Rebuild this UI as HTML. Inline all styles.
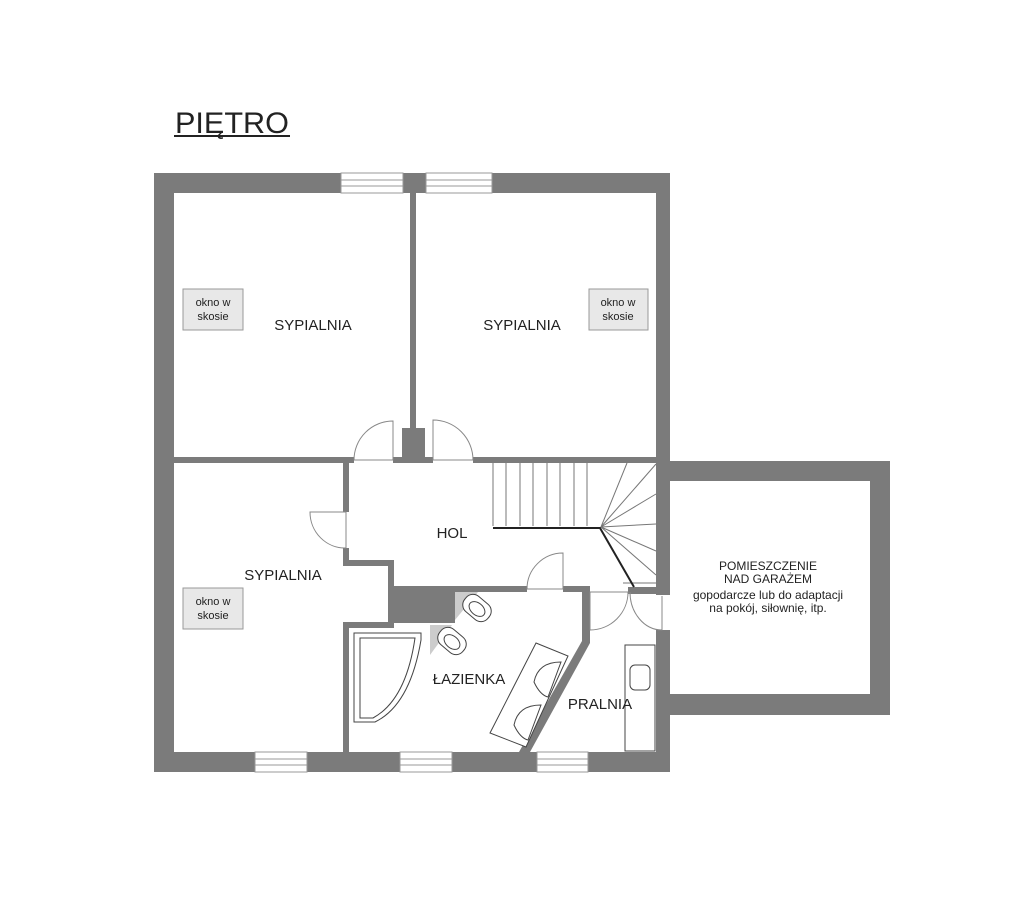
<!DOCTYPE html>
<html><head><meta charset="utf-8"><style>
html,body{margin:0;padding:0;background:#fff;}
svg{display:block;}
text{font-family:"Liberation Sans",sans-serif;fill:#222;}
</style></head><body>
<svg width="1011" height="902" viewBox="0 0 1011 902" xmlns="http://www.w3.org/2000/svg">
<text x="175" y="133" font-size="30" textLength="114" lengthAdjust="spacingAndGlyphs">PIĘTRO</text>
<rect x="174" y="135" width="116" height="2" fill="#222"/>
<g fill="#7b7b7b">
<rect x="154" y="173" width="516" height="20"/>
<rect x="154" y="173" width="20" height="599"/>
<rect x="154" y="752" width="516" height="20"/>
<rect x="656" y="173" width="14" height="422"/>
<rect x="656" y="630" width="14" height="142"/>
<rect x="670" y="461" width="220" height="20"/>
<rect x="870" y="461" width="20" height="254"/>
<rect x="670" y="694" width="220" height="21"/>
<rect x="410" y="193" width="6" height="240"/>
<rect x="402" y="428" width="23" height="34"/>
<rect x="174" y="457" width="180" height="6"/>
<rect x="393" y="457" width="40" height="6"/>
<rect x="473" y="457" width="183" height="6"/>
<rect x="343" y="460" width="6" height="52"/>
<rect x="343" y="548" width="6" height="18"/>
<rect x="343" y="560" width="51" height="6"/>
<rect x="388" y="560" width="6" height="68"/>
<rect x="343" y="622" width="51" height="6"/>
<rect x="343" y="622" width="6" height="130"/>
<rect x="388" y="588" width="67" height="35"/>
<rect x="392" y="586" width="135" height="6"/>
<rect x="563" y="586" width="27" height="6"/>
<rect x="628" y="587" width="30" height="7"/>
<polygon points="582,588 590,588 590,643 530,752 519,752 582,641"/>
</g>
<g fill="#fff" stroke="#999" stroke-width="1">
<rect x="341" y="173" width="62" height="20"/>
<rect x="426" y="173" width="66" height="20"/>
<rect x="255" y="752" width="52" height="20"/>
<rect x="400" y="752" width="52" height="20"/>
<rect x="537" y="752" width="51" height="20"/>
</g>
<g stroke="#999" stroke-width="1">
<line x1="341" y1="180" x2="403" y2="180"/><line x1="341" y1="186" x2="403" y2="186"/>
<line x1="426" y1="180" x2="492" y2="180"/><line x1="426" y1="186" x2="492" y2="186"/>
<line x1="255" y1="759" x2="307" y2="759"/><line x1="255" y1="765" x2="307" y2="765"/>
<line x1="400" y1="759" x2="452" y2="759"/><line x1="400" y1="765" x2="452" y2="765"/>
<line x1="537" y1="759" x2="588" y2="759"/><line x1="537" y1="765" x2="588" y2="765"/>
</g>
<g fill="none" stroke="#888" stroke-width="1">
<path d="M354,460 A39,39 0 0 1 393,421 V460 Z"/>
<path d="M473,460 A40,40 0 0 0 433,420 V460 Z"/>
<path d="M310,512 A35,36 0 0 0 346,548 V512 Z"/>
<path d="M527,589 A36,36 0 0 1 563,553 V589 Z"/>
<path d="M628,592 A38,38 0 0 1 590,630 V592 Z"/>
<path d="M630,592 A32,38 0 0 0 662,630 V596"/>
</g>
<g stroke="#777" stroke-width="1" fill="none">
<line x1="493" y1="463" x2="493" y2="526"/>
<line x1="506" y1="463" x2="506" y2="526"/><line x1="520" y1="463" x2="520" y2="526"/>
<line x1="533" y1="463" x2="533" y2="526"/><line x1="547" y1="463" x2="547" y2="526"/>
<line x1="560" y1="463" x2="560" y2="526"/><line x1="574" y1="463" x2="574" y2="526"/>
<line x1="587" y1="463" x2="587" y2="526"/>
<line x1="601" y1="527" x2="627" y2="463"/><line x1="601" y1="527" x2="656" y2="464"/>
<line x1="601" y1="527" x2="656" y2="494"/><line x1="601" y1="527" x2="656" y2="524"/>
<line x1="601" y1="527" x2="656" y2="551"/><line x1="601" y1="527" x2="656" y2="575"/>
<line x1="623" y1="583" x2="656" y2="583"/>
</g>
<polyline points="493,528 600,528 634,587" fill="none" stroke="#222" stroke-width="2"/>
<polygon points="455,592 478,592 455,620" fill="#ccc"/>
<polygon points="430,625 452,625 430,655" fill="#ccc"/>
<g fill="#fff" stroke="#444" stroke-width="1">
<path d="M354,633 H421 V640 Q410,705 375,722 H354 Z"/>
<path d="M360,638 H415 Q406,700 373,718 H360 Z"/>
<rect x="462" y="598" width="30" height="20" rx="9" transform="rotate(40 477 608)"/>
<ellipse cx="477" cy="609" rx="6" ry="9" transform="rotate(-50 477 609)"/>
<rect x="437" y="631" width="30" height="20" rx="9" transform="rotate(40 452 641)"/>
<ellipse cx="452" cy="642" rx="6" ry="9" transform="rotate(-50 452 642)"/>
<polygon points="536,643 568,656 526,747 490,733"/>
<path d="M561,662 Q538,662 534,682 Q540,695 548,697 Z"/>
<path d="M541,705 Q518,705 514,725 Q520,738 528,740 Z"/>
<rect x="625" y="645" width="30" height="106"/>
<rect x="630" y="665" width="20" height="25" rx="5"/>
</g>
<g fill="#e8e8e8" stroke="#999" stroke-width="1">
<rect x="183" y="289" width="60" height="41"/>
<rect x="589" y="289" width="59" height="41"/>
<rect x="183" y="588" width="60" height="41"/>
</g>
<g font-size="11" text-anchor="middle">
<text x="213" y="306">okno w</text><text x="213" y="320">skosie</text>
<text x="618" y="306">okno w</text><text x="618" y="320">skosie</text>
<text x="213" y="605">okno w</text><text x="213" y="619">skosie</text>
</g>
<g font-size="15" text-anchor="middle">
<text x="313" y="330">SYPIALNIA</text>
<text x="522" y="330">SYPIALNIA</text>
<text x="283" y="580">SYPIALNIA</text>
<text x="452" y="538">HOL</text>
<text x="469" y="684">ŁAZIENKA</text>
<text x="600" y="709">PRALNIA</text>
</g>
<g font-size="12" text-anchor="middle">
<text x="768" y="570">POMIESZCZENIE</text>
<text x="768" y="583">NAD GARAŻEM</text>
<text x="768" y="599">gopodarcze lub do adaptacji</text>
<text x="768" y="612">na pokój, siłownię, itp.</text>
</g>
</svg>
</body></html>
